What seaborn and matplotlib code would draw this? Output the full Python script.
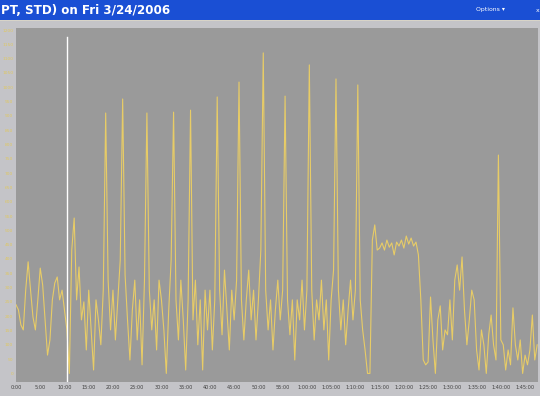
import numpy as np
import pandas as pd
import matplotlib
matplotlib.use("Agg")
import matplotlib.pyplot as plt
import seaborn as sns
from matplotlib.patches import Rectangle

# ---- data ----
SAMPLE_SECONDS = 30
power = [
    240, 222, 170, 152, 291, 390, 291, 197, 152, 257,
    368, 309, 187, 64, 117, 257, 316, 337, 257, 291,
    222, 152, 0, 431, 543, 257, 372, 187, 250, 82,
    291, 152, 12, 257, 187, 100, 291, 910, 326, 152,
    291, 117, 257, 396, 959, 344, 187, 47, 222, 326,
    117, 257, 30, 326, 910, 291, 152, 257, 82, 326,
    257, 152, 0, 222, 396, 913, 257, 117, 326, 187,
    12, 257, 920, 187, 326, 100, 257, 12, 291, 152,
    291, 82, 257, 966, 291, 135, 361, 222, 82, 291,
    187, 326, 1018, 257, 117, 257, 361, 187, 291, 117,
    257, 431, 1120, 291, 152, 257, 82, 222, 326, 187,
    291, 969, 257, 135, 257, 47, 257, 187, 326, 152,
    291, 1078, 291, 117, 257, 187, 326, 152, 257, 47,
    257, 361, 1029, 291, 152, 257, 100, 222, 326, 187,
    291, 1008, 257, 152, 82, 0, 0, 466, 519, 431,
    438, 456, 431, 466, 441, 456, 414, 459, 445, 466,
    438, 480, 452, 473, 445, 459, 414, 257, 47, 30,
    40, 267, 117, 0, 187, 236, 82, 152, 135, 257,
    117, 326, 379, 291, 407, 222, 100, 187, 291, 257,
    82, 12, 152, 100, 0, 135, 204, 100, 47, 763,
    117, 100, 12, 82, 30, 229, 100, 47, 117, 0,
    64, 30, 82, 204, 47, 100,
]
marker_time = 630          # white vertical marker (seconds)
x_ticks = list(range(0, 6301, 300))
x_tick_labels = ["0:00", "5:00", "10:00", "15:00", "20:00", "25:00", "30:00",
                 "35:00", "40:00", "45:00", "50:00", "55:00", "1:00:00",
                 "1:05:00", "1:10:00", "1:15:00", "1:20:00", "1:25:00",
                 "1:30:00", "1:35:00", "1:40:00", "1:45:00"]
y_ticks = list(range(0, 1201, 50))
title_text = "PT, STD) on Fri 3/24/2006"

df = pd.DataFrame({"time": np.arange(len(power)) * SAMPLE_SECONDS,
                   "power": power})

# ---- figure ----
W, H = 540, 396
fig = plt.figure(figsize=(W / 100, H / 100), dpi=100)
fig.patch.set_facecolor("#c4c4c8")

# title bar
fig.patches.append(Rectangle((0, 1 - 20 / H), 1, 20 / H, transform=fig.transFigure,
                             facecolor="#1a4fd4", edgecolor="none", zorder=0))
fig.patches.append(Rectangle((0, 1 - 21 / H), 1, 1.5 / H, transform=fig.transFigure,
                             facecolor="#d8d4c8", edgecolor="none", zorder=0))
fig.text(1 / W, 1 - 10 / H, title_text, color="white", fontsize=8.6,
         fontweight="bold", va="center", ha="left")
fig.text(505 / W, 1 - 10 / H, "Options \u25be", color="white", fontsize=4.4,
         va="center", ha="right")
fig.text(536 / W, 1 - 10 / H, "x", color="white", fontsize=4.5,
         va="center", ha="left")

ax = fig.add_axes([16 / W, 1 - 382 / H, (538 - 16) / W, (382 - 28) / H])
ax.set_facecolor("#9a9a9a")

sns.lineplot(data=df, x="time", y="power", ax=ax, color="#e8cc66",
             linewidth=0.8, estimator=None)
ax.axvline(marker_time, ymin=0, ymax=0.975, color="white", linewidth=1.0)

ax.set_xlim(0, 6460)
ax.set_ylim(-30, 1207)
ax.set_xticks(x_ticks)
ax.set_xticklabels(x_tick_labels, fontsize=3.6, color="#404040")
ax.set_yticks(y_ticks)
ax.set_yticklabels([str(v) for v in y_ticks], fontsize=3.2, color="#e0c860")
ax.tick_params(axis="both", length=0, pad=2)
ax.set_xlabel("")
ax.set_ylabel("")
for s in ax.spines.values():
    s.set_visible(False)
ax.grid(False)

fig.savefig("out.png", dpi=100, facecolor=fig.get_facecolor())
